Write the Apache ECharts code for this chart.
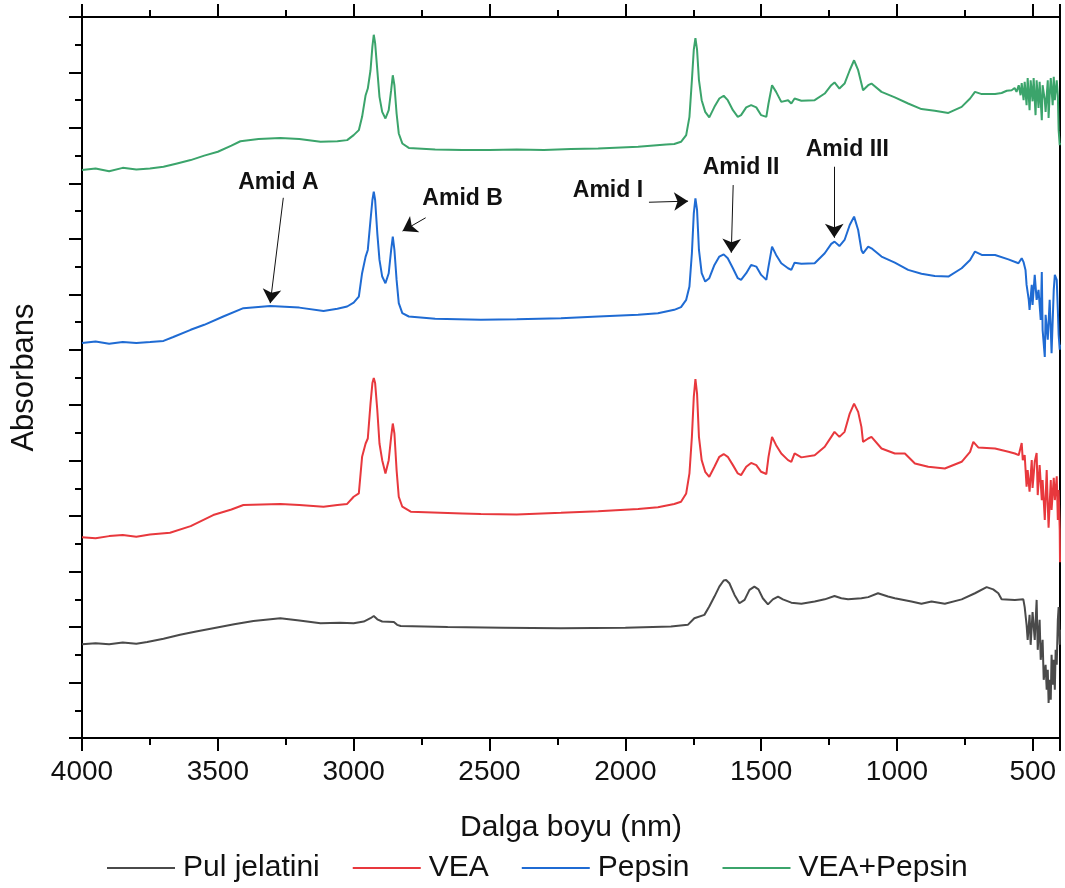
<!DOCTYPE html>
<html>
<head>
<meta charset="utf-8">
<title>FTIR</title>
<script src="https://cdn.jsdelivr.net/npm/echarts/dist/echarts.min.js"></script>
<style>
  html, body { margin: 0; padding: 0; background: #fff; }
  #main { width: 1065px; height: 888px; }
</style>
</head>
<body>
<div id="main"></div>
<script>
// spektrumlar: dalga sayisi (x) ve kaydirilmis absorbans (y)
var pulX = [4000,3950,3900,3850,3800,3760,3700,3639,3580,3517,3440,3369,3270,3200,3122,3050,3000,2963,2938,2926,2913,2895,2852,2840,2827,2654,2450,2237,2000,1832,1770,1746,1709,1691,1672,1654,1638,1629,1617,1598,1580,1561,1543,1525,1510,1494,1475,1457,1438,1420,1389,1352,1303,1266,1230,1205,1180,1131,1106,1070,1033,1008,947,910,873,824,762,713,670,646,627,615,566,535,530,523,519,512,508,501,493,486,482,475,471,464,460,453,449,445,442,438,434,431,427,423,419,416,412,408,405,401,400];
var pulY = [1.69,1.71,1.69,1.72,1.70,1.73,1.79,1.86,1.92,1.98,2.05,2.11,2.16,2.12,2.07,2.08,2.07,2.10,2.16,2.20,2.14,2.10,2.09,2.04,2.02,2.00,1.99,1.98,1.99,2.01,2.04,2.16,2.22,2.37,2.55,2.73,2.84,2.85,2.79,2.58,2.43,2.49,2.67,2.73,2.68,2.52,2.41,2.50,2.55,2.50,2.44,2.42,2.46,2.50,2.56,2.52,2.50,2.52,2.54,2.61,2.55,2.52,2.46,2.42,2.46,2.42,2.50,2.61,2.72,2.68,2.61,2.50,2.49,2.50,2.36,2.04,1.77,2.22,1.68,2.27,1.77,2.49,1.59,2.13,1.41,1.77,1.05,1.32,0.87,1.23,0.63,1.05,0.69,1.50,0.96,1.41,0.87,1.59,1.32,2.13,2.36,1.68,1.95];

var veaX = [4000,3950,3900,3850,3800,3750,3676,3600,3517,3450,3406,3270,3200,3111,3060,3024,3000,2981,2969,2956,2948,2938,2931,2926,2921,2913,2905,2895,2883,2871,2862,2856,2850,2842,2834,2821,2790,2600,2532,2400,2237,2100,1953,1880,1820,1795,1776,1764,1755,1748,1742,1736,1729,1719,1706,1691,1672,1654,1638,1623,1604,1586,1574,1555,1537,1518,1500,1481,1473,1460,1445,1426,1401,1389,1377,1352,1303,1266,1242,1230,1212,1193,1174,1158,1143,1131,1125,1106,1094,1057,1008,971,934,885,824,762,731,719,701,639,590,566,552,541,537,530,523,519,512,504,501,493,486,482,475,467,464,456,449,445,442,434,431,423,419,412,408,405,401,400];
var veaY = [3.62,3.60,3.64,3.66,3.63,3.67,3.70,3.82,4.02,4.12,4.20,4.22,4.20,4.17,4.20,4.22,4.35,4.41,5.07,5.31,5.40,6.03,6.40,6.49,6.40,5.91,5.31,5.01,4.77,5.01,5.43,5.67,5.49,4.83,4.35,4.17,4.08,4.05,4.04,4.03,4.06,4.09,4.13,4.16,4.22,4.26,4.41,4.77,5.43,6.15,6.47,6.21,5.43,5.01,4.80,4.71,4.89,5.07,5.12,5.07,4.92,4.77,4.74,4.89,4.96,4.92,4.80,4.76,5.07,5.43,5.28,5.13,5.01,4.98,5.13,5.06,5.10,5.25,5.43,5.52,5.43,5.52,5.85,6.03,5.88,5.61,5.34,5.40,5.43,5.22,5.13,5.13,4.95,4.89,4.86,4.98,5.16,5.34,5.24,5.22,5.16,5.13,5.10,5.32,5.01,5.10,4.53,4.83,4.44,5.01,4.51,4.98,5.14,4.38,4.92,4.29,4.65,3.93,4.83,4.20,3.79,4.65,4.11,4.69,4.29,4.72,3.93,4.47,3.75,3.17];

var pepX = [4000,3950,3900,3850,3800,3749,3700,3664,3600,3550,3480,3406,3307,3200,3111,3060,3024,3000,2981,2969,2956,2948,2938,2931,2926,2921,2913,2905,2895,2883,2871,2862,2856,2850,2842,2834,2821,2797,2700,2532,2400,2237,2100,1953,1880,1820,1795,1776,1764,1755,1748,1742,1736,1729,1719,1706,1691,1672,1654,1638,1623,1604,1586,1574,1555,1537,1518,1500,1481,1473,1460,1445,1426,1401,1389,1377,1352,1303,1266,1242,1230,1212,1193,1174,1158,1143,1131,1125,1106,1094,1057,1008,959,910,861,811,762,731,713,688,639,590,553,541,534,527,523,515,512,504,501,493,486,479,471,467,464,456,453,445,438,434,431,423,419,412,408,405,401,400];
var pepY = [7.12,7.15,7.11,7.14,7.12,7.14,7.16,7.23,7.36,7.45,7.60,7.75,7.79,7.76,7.70,7.74,7.78,7.85,7.96,8.38,8.68,8.80,9.34,9.70,9.85,9.70,9.10,8.62,8.32,8.20,8.38,8.80,9.04,8.80,8.26,7.84,7.66,7.60,7.56,7.54,7.55,7.57,7.60,7.63,7.66,7.72,7.77,7.90,8.14,8.74,9.46,9.73,9.52,8.80,8.38,8.23,8.29,8.53,8.68,8.72,8.65,8.47,8.29,8.26,8.38,8.53,8.50,8.35,8.26,8.50,8.86,8.71,8.56,8.47,8.44,8.57,8.55,8.56,8.74,8.91,8.95,8.87,8.98,9.25,9.40,9.16,8.80,8.74,8.86,8.83,8.68,8.57,8.44,8.37,8.33,8.32,8.47,8.62,8.77,8.71,8.71,8.63,8.56,8.65,8.58,8.44,8.17,7.90,7.72,8.17,7.81,8.35,7.90,8.08,7.54,8.40,7.36,6.87,7.63,7.18,7.90,7.36,6.94,8.08,8.35,8.26,7.72,7.27,7.00,7.09];

var mixX = [4000,3950,3900,3850,3800,3750,3700,3650,3600,3550,3500,3450,3417,3350,3270,3200,3122,3060,3024,3000,2981,2969,2956,2948,2938,2931,2926,2921,2913,2905,2895,2883,2871,2862,2856,2850,2842,2834,2821,2797,2700,2600,2500,2400,2300,2200,2100,1953,1850,1820,1795,1776,1764,1755,1748,1742,1736,1729,1719,1706,1691,1672,1654,1638,1623,1604,1586,1574,1555,1537,1518,1500,1481,1473,1460,1445,1426,1401,1389,1377,1352,1303,1266,1242,1230,1212,1193,1174,1158,1143,1131,1125,1106,1094,1057,1008,959,910,861,811,762,731,713,688,639,615,596,578,567,560,552,545,541,534,530,523,519,512,508,501,497,490,486,479,475,467,464,456,453,445,442,438,434,427,423,419,412,408,405,401,400];
var mixY = [10.24,10.27,10.22,10.28,10.25,10.27,10.30,10.36,10.42,10.50,10.57,10.68,10.76,10.80,10.82,10.80,10.75,10.76,10.78,10.87,10.96,11.20,11.59,11.71,12.04,12.47,12.68,12.53,12.04,11.56,11.29,11.17,11.32,11.68,11.95,11.77,11.26,10.90,10.72,10.64,10.61,10.60,10.60,10.61,10.60,10.62,10.63,10.66,10.70,10.71,10.75,10.87,11.20,11.86,12.41,12.62,12.41,11.86,11.50,11.29,11.19,11.38,11.53,11.58,11.50,11.32,11.20,11.23,11.37,11.41,11.37,11.23,11.20,11.44,11.77,11.65,11.47,11.50,11.44,11.53,11.49,11.50,11.62,11.77,11.82,11.71,11.80,12.04,12.22,12.04,11.80,11.68,11.77,11.80,11.65,11.55,11.44,11.34,11.31,11.27,11.38,11.53,11.65,11.61,11.61,11.63,11.67,11.68,11.72,11.65,11.77,11.59,11.81,11.50,11.83,11.41,11.90,11.32,11.86,11.48,11.90,11.23,11.86,11.36,11.83,11.14,11.77,11.50,11.29,11.86,11.18,11.59,11.90,11.41,11.92,11.50,11.86,11.59,10.96,10.69,10.73];

var names = ['Pul jelatini', 'VEA', 'Pepsin', 'VEA+Pepsin'];
var colors = ['#4a4a4a', '#e8383d', '#1f6bd3', '#3ba46b'];

// etiketler ve oklar (veri koordinatlari)
var notes = [
    { text: 'Amid A', at: [3277, 10.01], from: [3259, 9.74], to: [3307, 7.84] },
    { text: 'Amid B', at: [2599, 9.72], from: [2735, 9.38], to: [2820, 9.14] },
    { text: 'Amid I', at: [2064, 9.86], from: [1913, 9.66], to: [1769, 9.68] },
    { text: 'Amid II', at: [1574, 10.28], from: [1603, 9.97], to: [1610, 8.75] },
    { text: 'Amid III', at: [1183, 10.60], from: [1231, 10.30], to: [1231, 9.02] }
];

var font = 'Liberation Sans, Arial, sans-serif';

function pairs(xs, ys) {
    return xs.map(function (x, i) { return [x, ys[i]]; });
}

var tickStyle = { color: '#000', width: 2 };

function xAxisCfg(pos, withLabels) {
    return {
        type: 'value',
        position: pos,
        min: 400,
        max: 4000,
        inverse: true,
        splitNumber: 7,
        splitLine: { show: false },
        axisLine: { show: true, onZero: false, lineStyle: tickStyle },
        axisTick: { show: true, inside: false, length: 13, lineStyle: tickStyle },
        minorTick: { show: true, splitNumber: 2, length: 7, lineStyle: tickStyle },
        axisLabel: {
            show: withLabels,
            margin: 20,
            fontSize: 28,
            fontFamily: font,
            color: '#111',
            showMinLabel: false,
            formatter: function (v) { return v % 500 === 0 ? String(v) : ''; }
        }
    };
}

var bottomX = xAxisCfg('bottom', true);
bottomX.name = 'Dalga boyu (nm)';
bottomX.nameLocation = 'middle';
bottomX.nameGap = 75;
bottomX.nameTextStyle = { fontSize: 30, fontFamily: font, color: '#111' };

var series = [[pulX, pulY], [veaX, veaY], [pepX, pepY], [mixX, mixY]].map(function (xy, i) {
    return {
        name: names[i],
        type: 'line',
        data: pairs(xy[0], xy[1]),
        showSymbol: false,
        symbol: 'none',
        lineStyle: { width: 2, color: colors[i] },
        itemStyle: { color: colors[i] },
        z: 2
    };
});

series[3].markLine = {
    silent: true,
    symbol: ['none', 'arrow'],
    symbolSize: 14,
    label: { show: false },
    lineStyle: { color: '#111', width: 1, type: 'solid' },
    data: notes.map(function (n) { return [{ coord: n.from }, { coord: n.to }]; })
};
series[3].markPoint = {
    silent: true,
    symbol: 'rect',
    symbolSize: 0,
    label: {
        show: true,
        position: 'inside',
        formatter: '{b}',
        fontSize: 23,
        fontWeight: 'bold',
        fontFamily: font,
        color: '#111'
    },
    data: notes.map(function (n) { return { name: n.text, coord: n.at }; })
};

var chart = echarts.init(document.getElementById('main'));
chart.setOption({
    animation: false,
    backgroundColor: '#fff',
    grid: { left: 82, right: 5, top: 17, bottom: 150, containLabel: false, outerBoundsMode: 'none' },
    legend: {
        data: names,
        left: 102,
        top: 848,
        icon: 'rect',
        itemWidth: 68,
        itemHeight: 2,
        itemGap: 33,
        textStyle: { fontSize: 30, fontFamily: font, color: '#111', padding: [0, 0, 0, 3] }
    },
    xAxis: [bottomX, xAxisCfg('top', false)],
    yAxis: [
        {
            type: 'value',
            position: 'left',
            min: 0,
            max: 13,
            interval: 1,
            splitLine: { show: false },
            axisLine: { show: true, lineStyle: tickStyle },
            axisTick: { show: true, inside: false, length: 13, lineStyle: tickStyle },
            minorTick: { show: true, splitNumber: 2, length: 7, lineStyle: tickStyle },
            axisLabel: { show: false },
            name: 'Absorbans',
            nameLocation: 'middle',
            nameGap: 42,
            nameTextStyle: { fontSize: 31, fontFamily: font, color: '#111' }
        },
        {
            type: 'value',
            position: 'right',
            min: 0,
            max: 13,
            splitLine: { show: false },
            axisLine: { show: true, lineStyle: tickStyle },
            axisTick: { show: false },
            axisLabel: { show: false }
        }
    ],
    series: series
});
</script>
</body>
</html>
